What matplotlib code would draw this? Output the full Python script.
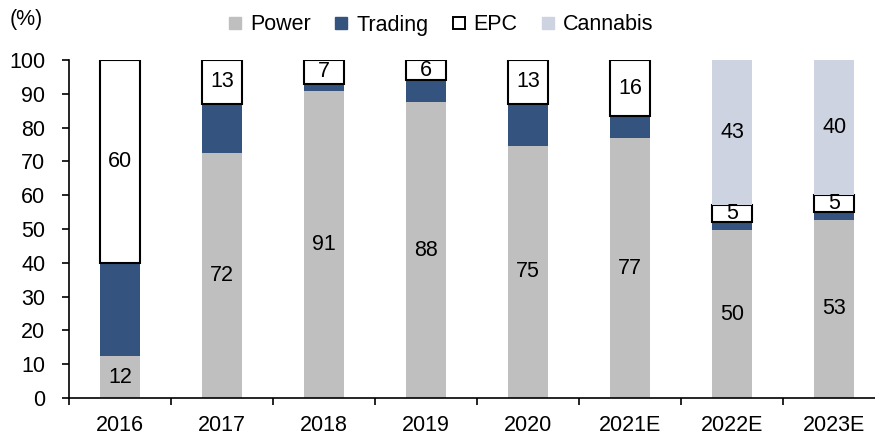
import numpy as np
import matplotlib.pyplot as plt
from matplotlib.lines import Line2D

plt.rcParams['font.family'] = ['Liberation Sans', 'DejaVu Sans']

# Data (% share of revenue)
years = ["2016", "2017", "2018", "2019", "2020", "2021E", "2022E", "2023E"]
power = [12.4, 72.4, 90.9, 87.5, 74.6, 76.8, 49.7, 52.7]
trading = [27.6, 14.6, 2.1, 6.5, 12.4, 6.7, 2.4, 2.3]
epc = [60, 13, 7, 6, 13, 16.4, 4.9, 5.0]
cannabis = [0, 0, 0, 0, 0, 0, 43.0, 40.0]

c_power = "#BFBFBF"
c_trading = "#34537F"
c_cannabis = "#CDD3E0"

fig = plt.figure(figsize=(8.75, 4.37), dpi=100)
ax = fig.add_axes([69 / 875, 1 - 398 / 437, (875 - 69) / 875, (398 - 60) / 437])

x = np.arange(len(years))
w = 0.39
power = np.array(power)
trading = np.array(trading)
epc = np.array(epc)
cannabis = np.array(cannabis)

ax.bar(x, power, w, color=c_power)
ax.bar(x, trading, w, bottom=power, color=c_trading)
ax.bar(x, epc, w, bottom=power + trading, color="white", edgecolor="black", linewidth=1.5)
ax.bar(x, cannabis, w, bottom=power + trading + epc, color=c_cannabis)

fs = 15.5
for i in range(len(years)):
    ax.text(x[i], power[i] / 2, f"{round(power[i])}", ha="center", va="center", fontsize=fs)
    ax.text(x[i], power[i] + trading[i] + epc[i] / 2, f"{round(epc[i])}",
            ha="center", va="center", fontsize=fs)
    if cannabis[i] > 0:
        ax.text(x[i], power[i] + trading[i] + epc[i] + cannabis[i] / 2,
                f"{round(cannabis[i])}", ha="center", va="center", fontsize=fs)

ax.set_xlim(-0.5, 7.4)
ax.set_ylim(0, 100)
ax.set_yticks(np.arange(0, 101, 10))
ax.set_xticks(x)
ax.set_xticklabels(years)
ax.set_xticks(np.arange(-0.5, 7.0, 1), minor=True)
ax.tick_params(axis="x", which="major", length=0, pad=12, labelsize=fs)
ax.tick_params(axis="x", which="minor", length=5, width=1.2, direction="out")
ax.tick_params(axis="y", length=5, width=1.2, direction="out", labelsize=fs, pad=12)
for s in ["top", "right"]:
    ax.spines[s].set_visible(False)
for s in ["left", "bottom"]:
    ax.spines[s].set_linewidth(1.2)

fig.text(10 / 875, 1 - 20 / 437, "(%)", fontsize=fs, va="center", ha="left")

handles = [
    Line2D([], [], marker="s", linestyle="none", markersize=9, markerfacecolor=c_power, markeredgecolor=c_power),
    Line2D([], [], marker="s", linestyle="none", markersize=9, markerfacecolor=c_trading, markeredgecolor=c_trading),
    Line2D([], [], marker="s", linestyle="none", markersize=8, markerfacecolor="white", markeredgecolor="black", markeredgewidth=1.4),
    Line2D([], [], marker="s", linestyle="none", markersize=9, markerfacecolor=c_cannabis, markeredgecolor=c_cannabis),
]
fig.legend(handles, ["Power", "Trading", "EPC", "Cannabis"], loc="center",
           bbox_to_anchor=(440 / 875, 1 - 25 / 437), ncol=4, frameon=False,
           fontsize=fs, handlelength=0.8, handletextpad=0.3, columnspacing=1.0)

fig.savefig("out.png", dpi=100)
